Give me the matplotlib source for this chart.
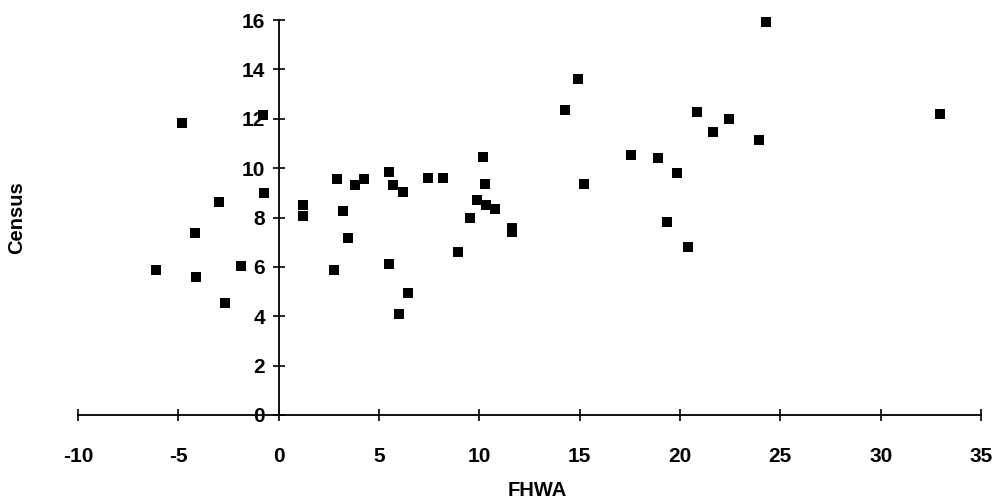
import matplotlib
matplotlib.use("Agg")
import matplotlib.pyplot as plt

# FHWA (x) vs Census (y) values
fhwa = [-6.11, -4.83, -4.17, -4.14, -2.96, -2.68, -1.89, -0.73, -0.77,
        1.21, 1.21,
        2.92, 3.80, 4.27, 5.51, 5.71, 6.18, 7.42, 8.20, 10.19, 10.28, 9.90,
        10.33, 10.78, 9.53, 11.61, 11.61, 3.22, 3.44, 2.76, 5.50, 6.46, 6.00, 8.92,
        24.28, 14.93, 14.27, 20.83, 22.44, 21.66, 23.95, 17.54, 18.91, 19.83,
        15.23, 19.33, 20.38,
        32.95]
census = [5.87, 11.83, 7.36, 5.60, 8.62, 4.55, 6.05, 8.98, 12.15,
          8.50, 8.06,
          9.54, 9.31, 9.54, 9.85, 9.31, 9.04, 9.58, 9.62, 10.46, 9.34, 8.70,
          8.50, 8.33, 8.00, 7.57, 7.41, 8.26, 7.18, 5.87, 6.10, 4.93, 4.09, 6.59,
          15.92, 13.59, 12.35, 12.28, 12.01, 11.45, 11.13, 10.55, 10.39, 9.81,
          9.34, 7.80, 6.81,
          12.21]

x_ticks = [-10, -5, 0, 5, 10, 15, 20, 25, 30, 35]
y_ticks = [0, 2, 4, 6, 8, 10, 12, 14, 16]

plt.rcParams['font.family'] = ['Liberation Sans', 'DejaVu Sans']

W, H = 999, 504
fig = plt.figure(figsize=(W / 100, H / 100), dpi=100)
left, right, top, bottom = 78, 981, 20, 415
ax = fig.add_axes([left / W, 1 - bottom / H, (right - left) / W, (bottom - top) / H])

ax.scatter(fhwa, census, marker='s', s=60, color='black', linewidths=0,
           zorder=3, clip_on=False)

ax.set_xlim(-10, 35)
ax.set_ylim(0, 16)
ax.set_xticks(x_ticks)
ax.set_yticks(y_ticks)
ax.set_xticklabels([str(v) for v in x_ticks])
ax.set_yticklabels([str(v) for v in y_ticks])

for s in ['top', 'right']:
    ax.spines[s].set_visible(False)
ax.spines['left'].set_position(('data', 0))
ax.spines['bottom'].set_position(('data', 0))
for s in ['left', 'bottom']:
    ax.spines[s].set_linewidth(1.3)
    ax.spines[s].set_color('black')

ax.tick_params(axis='x', direction='inout', length=8, width=1.2, pad=19,
               labelsize=15)
ax.tick_params(axis='y', direction='inout', length=8, width=1.2, pad=6,
               labelsize=15)
for lab in ax.get_xticklabels() + ax.get_yticklabels():
    lab.set_fontweight('bold')

ax.set_xlabel('FHWA', fontsize=14.5, fontweight='bold')
ax.xaxis.set_label_coords((537 - left) / (right - left), -0.168)
ax.set_ylabel('Census', fontsize=14.5, fontweight='bold')
ax.yaxis.set_label_coords((26 - left) / (right - left), 0.5)

fig.savefig('out.png', dpi=100)
